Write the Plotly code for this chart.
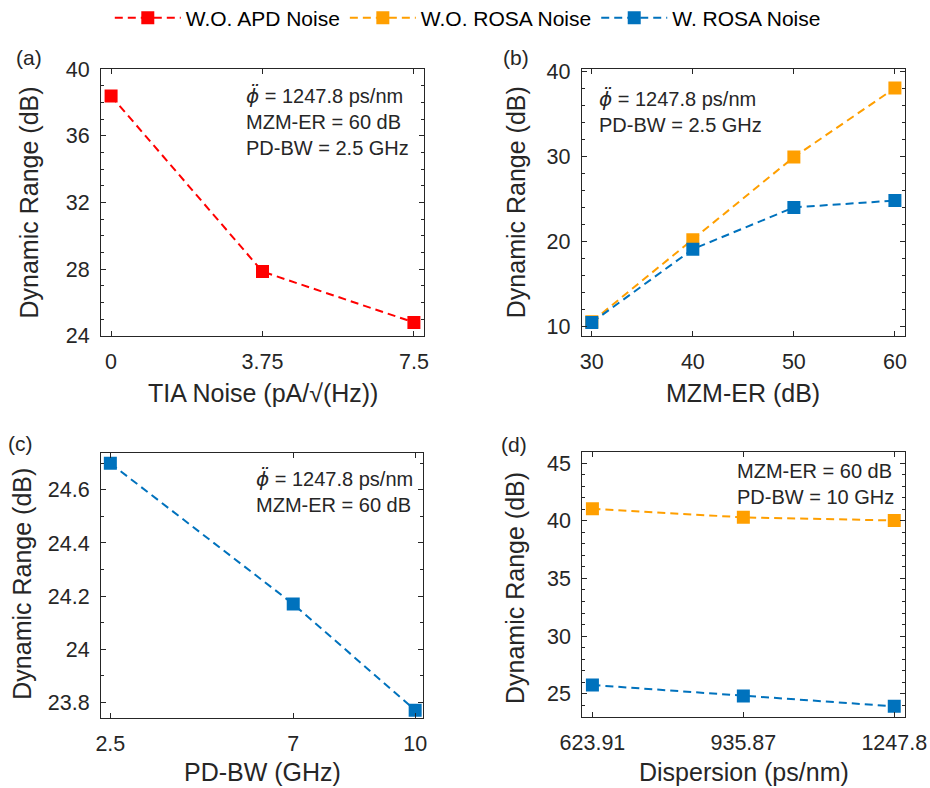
import plotly.graph_objects as go

# ---------------- data ----------------
tia_noise = [0, 3.75, 7.5]
dr_a_red = [38.4, 27.85, 24.8]

mzm_er = [30, 40, 50, 60]
dr_b_orange = [10.6, 20.2, 29.9, 38.0]
dr_b_blue = [10.5, 19.1, 24.0, 24.8]

pd_bw = [2.5, 7, 10]
dr_c_blue = [24.70, 24.17, 23.77]

dispersion = [623.91, 935.87, 1247.8]
dispersion_labels = ["623.91", "935.87", "1247.8"]
dr_d_orange = [41.05, 40.3, 40.03]
dr_d_blue = [25.75, 24.8, 23.9]

a_xticks = [0, 3.75, 7.5]
a_xticklabels = ["0", "3.75", "7.5"]
a_yticks = [24, 28, 32, 36, 40]
b_xticks = [30, 40, 50, 60]
b_yticks = [10, 20, 30, 40]
c_xticks = [2.5, 7, 10]
c_xticklabels = ["2.5", "7", "10"]
c_yticks = [23.8, 24.0, 24.2, 24.4, 24.6]
c_yticklabels = ["23.8", "24", "24.2", "24.4", "24.6"]
d_yticks = [25, 30, 35, 40, 45]

series_names = ["W.O. APD Noise", "W.O. ROSA Noise", "W. ROSA Noise"]

# ---------------- style ----------------
W, H = 930, 788
RED, ORANGE, BLUE = "#FF0000", "#FF9F00", "#0072BD"
AXC = "#262626"
FONT = "Liberation Sans, Arial, Helvetica, sans-serif"
DASH = "8px,5px"


def px(x):
    return x / W


def py(y):
    return 1 - y / H


fig = go.Figure()


def add(x, y, color, name, xa, ya, show):
    fig.add_trace(go.Scatter(
        x=x, y=y, mode="lines+markers", name=name,
        line=dict(color=color, width=2, dash=DASH),
        marker=dict(symbol="square", size=13, color=color,
                    line=dict(width=0)),
        xaxis=xa, yaxis=ya, showlegend=show, legendgroup=name))


add(tia_noise, dr_a_red, RED, series_names[0], "x", "y", True)
add(mzm_er, dr_b_orange, ORANGE, series_names[1], "x2", "y2", True)
add(mzm_er, dr_b_blue, BLUE, series_names[2], "x2", "y2", True)
add(pd_bw, dr_c_blue, BLUE, series_names[2], "x3", "y3", False)
add(dispersion, dr_d_orange, ORANGE, series_names[1], "x4", "y4", False)
add(dispersion, dr_d_blue, BLUE, series_names[2], "x4", "y4", False)

common = dict(showline=True, linecolor=AXC, linewidth=1, mirror="ticks",
              ticks="inside", ticklen=5, tickcolor=AXC, tickwidth=1,
              showgrid=False, zeroline=False, automargin=False,
              tickfont=dict(family=FONT, size=21.5, color=AXC))

# panel geometry (pixels)
geo = {
    "a": (101, 424, 69.3, 335.7),
    "b": (581.7, 905, 69.3, 335.7),
    "c": (101, 423.3, 452.7, 717.7),
    "d": (582.3, 905, 451.7, 716.7),
}


def dom(k):
    x0, x1, y0, y1 = geo[k]
    return [px(x0), px(x1)], [py(y1), py(y0)]


xd, yd = dom("a")
fig.update_layout(
    xaxis=dict(domain=xd, anchor="y", range=[-0.25, 7.75], tickvals=a_xticks,
               ticktext=a_xticklabels, ticklabelstandoff=6, **common),
    yaxis=dict(domain=yd, anchor="x", range=[24, 40], tickvals=a_yticks,
               minor=dict(dtick=1, ticks="inside", ticklen=3, tickcolor=AXC),
               ticklabelstandoff=6, **common),
)
xd, yd = dom("b")
fig.update_layout(
    xaxis2=dict(domain=xd, anchor="y2", range=[29, 61], tickvals=b_xticks,
                ticklabelstandoff=6, **common),
    yaxis2=dict(domain=yd, anchor="x2", range=[8.95, 40.2], tickvals=b_yticks,
                minor=dict(dtick=2, ticks="inside", ticklen=3, tickcolor=AXC),
                ticklabelstandoff=6, **common),
)
xd, yd = dom("c")
fig.update_layout(
    xaxis3=dict(domain=xd, anchor="y3", range=[2.27, 10.2], tickvals=c_xticks,
                ticktext=c_xticklabels, ticklabelstandoff=6, **common),
    yaxis3=dict(domain=yd, anchor="x3", range=[23.742, 24.74], tickvals=c_yticks,
                ticktext=c_yticklabels,
                minor=dict(dtick=0.1, tick0=23.8, ticks="inside", ticklen=3, tickcolor=AXC),
                ticklabelstandoff=6, **common),
)
xd, yd = dom("d")
fig.update_layout(
    xaxis4=dict(domain=xd, anchor="y4", range=[603, 1270], tickvals=dispersion,
                ticktext=dispersion_labels, ticklabelstandoff=6, **common),
    yaxis4=dict(domain=yd, anchor="x4", range=[23, 46], tickvals=d_yticks,
                minor=dict(dtick=1, ticks="inside", ticklen=3, tickcolor=AXC),
                ticklabelstandoff=6, **common),
)

ann = []


def text(x, y, s, size, xanchor="center", angle=0, align="left"):
    ann.append(dict(x=px(x), y=py(y), xref="paper", yref="paper", text=s,
                    showarrow=False, xanchor=xanchor, yanchor="middle",
                    textangle=angle, align=align, borderpad=0,
                    font=dict(family=FONT, size=size, color=AXC)))


# axis titles
TS = 25
text(263, 393, "TIA Noise (pA/√(Hz))", TS)
text(743, 393, "MZM-ER (dB)", TS)
text(262, 772, "PD-BW (GHz)", TS)
text(744, 772, "Dispersion (ps/nm)", TS)
text(29, 202.5, "Dynamic Range (dB)", TS, angle=-90)
text(516.7, 202.5, "Dynamic Range (dB)", TS, angle=-90)
text(21.7, 584, "Dynamic Range (dB)", TS, angle=-90)
text(515, 588, "Dynamic Range (dB)", TS, angle=-90)
# panel labels
text(29, 57, "(a)", 21)
text(516, 57, "(b)", 21)
text(20, 443, "(c)", 21)
text(514, 444, "(d)", 21)
# in-panel parameter text
PHI = "<span style=\"font-family:'DejaVu Sans'\"><i>ϕ̈</i></span>"
text(245, 121, PHI + " = 1247.8 ps/nm<br>MZM-ER = 60 dB<br>PD-BW = 2.5 GHz", 20, xanchor="left")
text(598, 111.5, PHI + " = 1247.8 ps/nm<br>PD-BW = 2.5 GHz", 20, xanchor="left")
text(255, 491.7, PHI + " = 1247.8 ps/nm<br>MZM-ER = 60 dB", 20, xanchor="left")
text(735.7, 483.7, "MZM-ER = 60 dB<br>PD-BW = 10 GHz", 20, xanchor="left")

fig.update_layout(
    annotations=ann,
    template="none",
    width=W, height=H,
    margin=dict(l=0, r=0, t=0, b=0, autoexpand=False),
    paper_bgcolor="white", plot_bgcolor="white",
    font=dict(family=FONT, color=AXC),
    legend=dict(orientation="h", xref="container", yref="container",
                x=0.503, xanchor="center", y=py(18), yanchor="middle",
                font=dict(family=FONT, size=21, color="black"),
                itemwidth=66, bgcolor="rgba(0,0,0,0)"),
)

fig.write_html(
    "out.html",
    config={"displayModeBar": False},
    post_script="document.body.style.margin='0px';document.body.style.overflow='hidden';",
)
